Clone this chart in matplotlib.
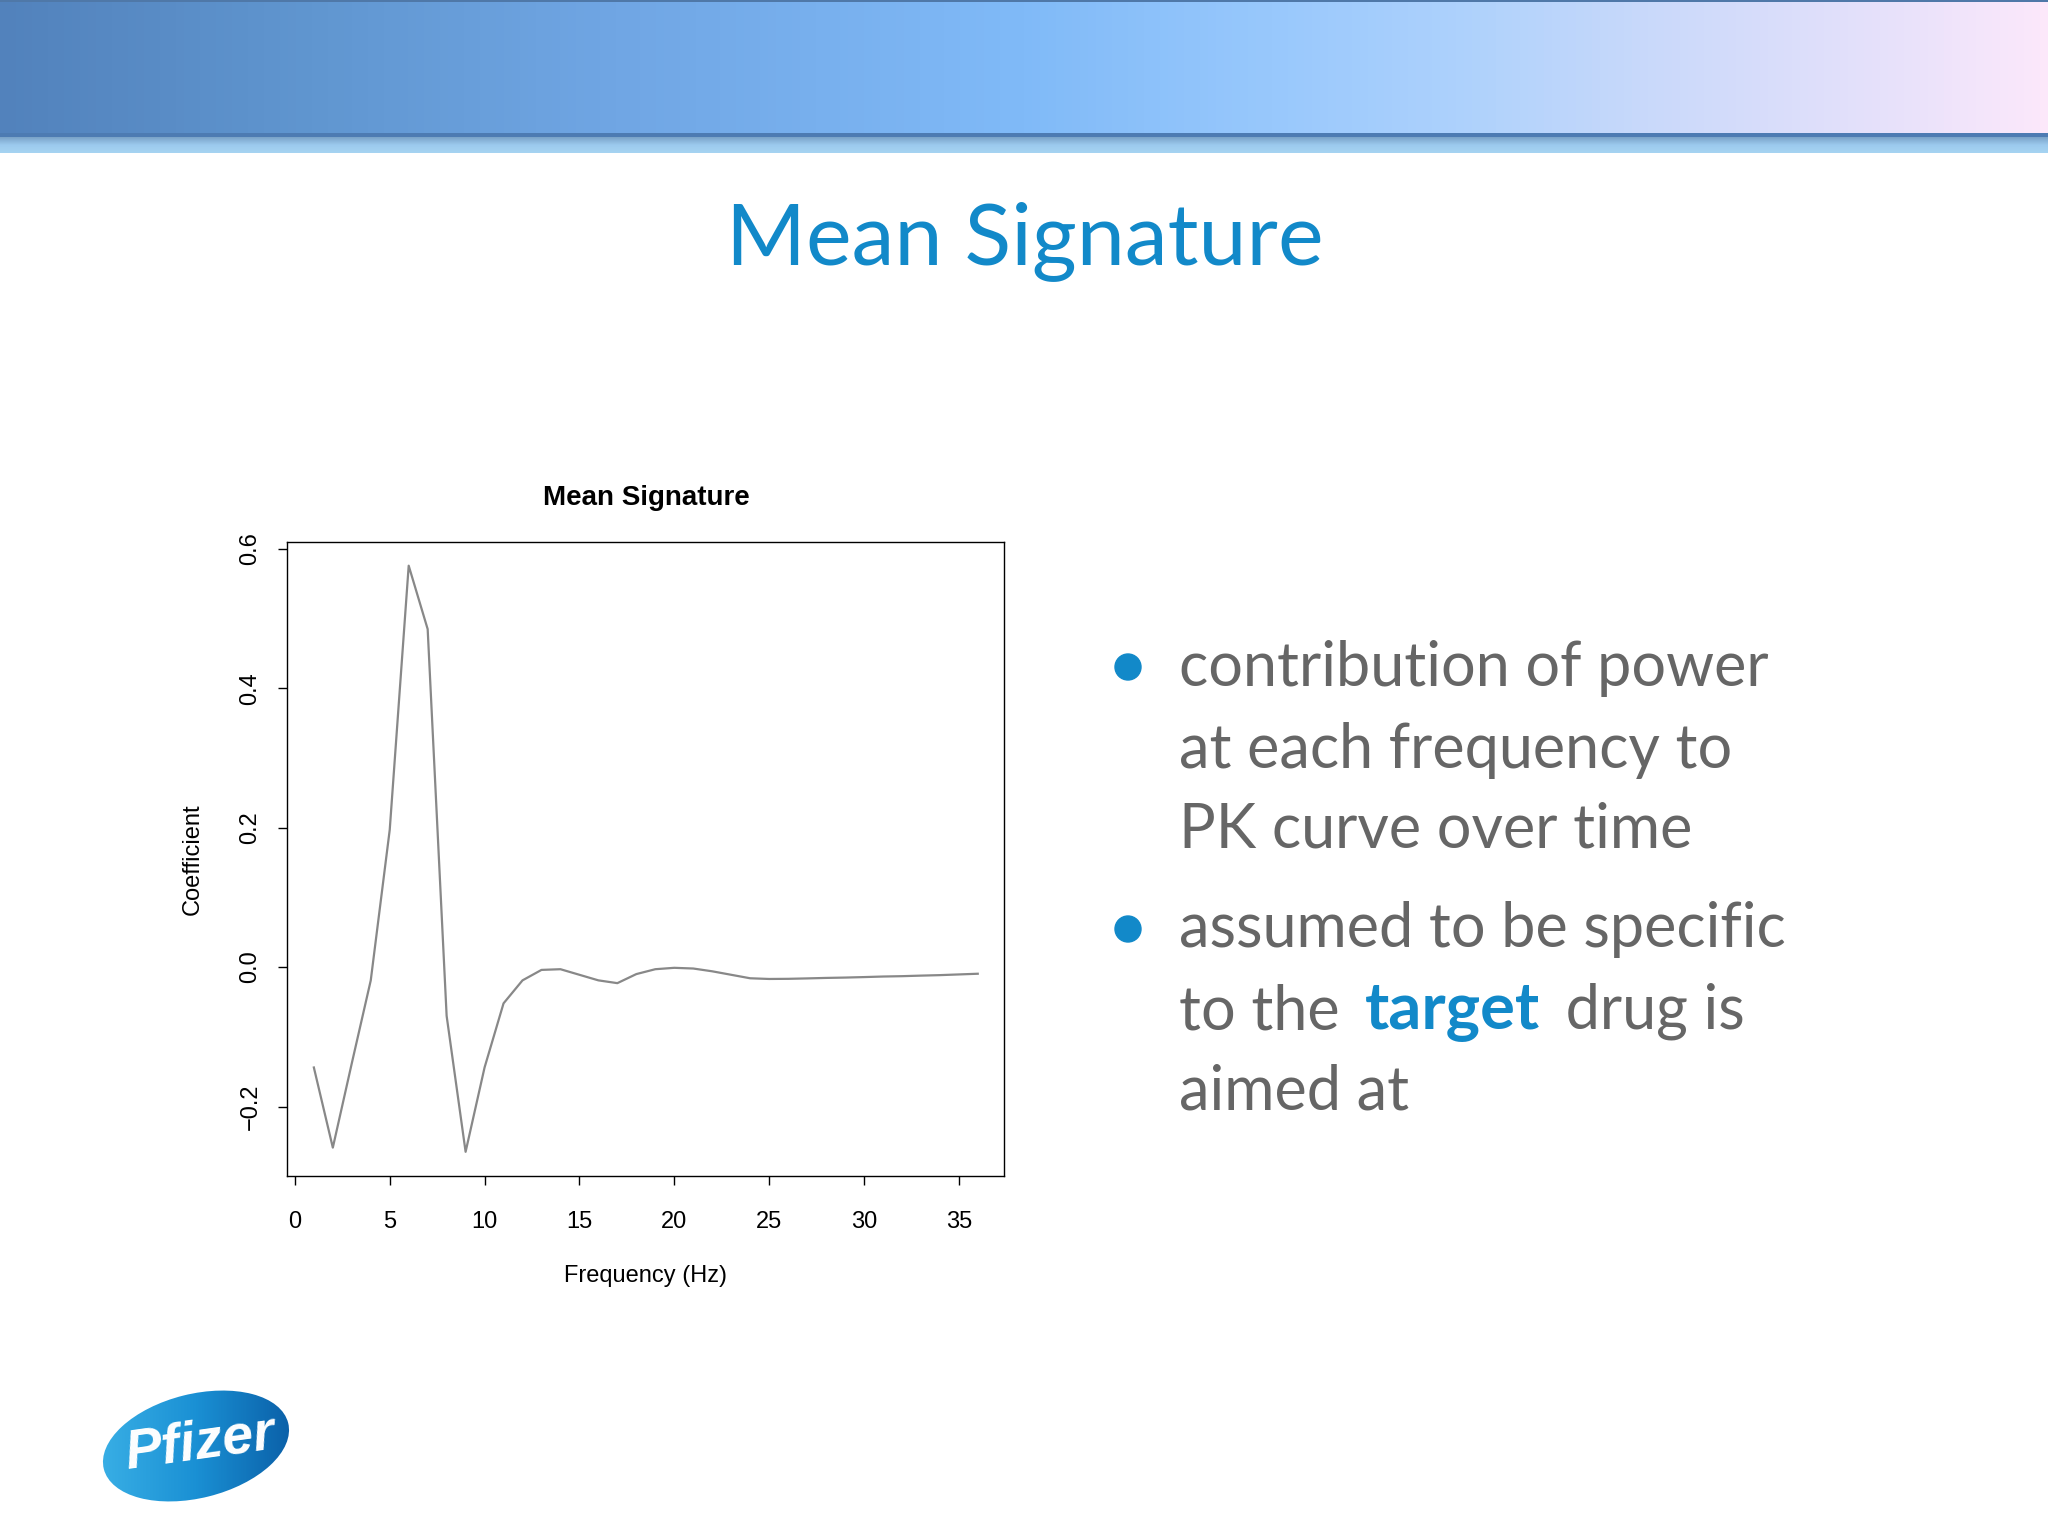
import numpy as np
import matplotlib
matplotlib.use("Agg")
import matplotlib.pyplot as plt
from matplotlib.colors import LinearSegmentedColormap
from matplotlib.patches import Ellipse, Circle

# data
freq = list(range(1, 37))
coef = [-0.144, -0.259, -0.138, -0.019, 0.197, 0.576, 0.485, -0.070, -0.265, -0.144,
        -0.052, -0.019, -0.004, -0.003, -0.011, -0.019, -0.023, -0.010, -0.003, -0.001,
        -0.002, -0.006, -0.011, -0.016, -0.017, -0.0168, -0.0162, -0.0155, -0.015, -0.0143,
        -0.0135, -0.013, -0.0122, -0.0115, -0.0105, -0.0095]
xticks = [0, 5, 10, 15, 20, 25, 30, 35]
yticks = [-0.2, 0.0, 0.2, 0.4, 0.6]

bullet1 = ["contribution of power", "at each frequency to", "PK curve over time"]
bullet2_pre = "to the "
bullet2_bold = "target"
bullet2_post = " drug is"
bullet2 = ["assumed to be specific", None, "aimed at"]

W, H = 2048, 1536
BLUE = "#1289c9"
GRAY = "#666666"
SLIDE_FONT = "Lato"
FS = 44

fig = plt.figure(figsize=(W / 100, H / 100), dpi=100)
fig.patch.set_facecolor("white")

# background axes in pixel coordinates
bg = fig.add_axes([0, 0, 1, 1])
bg.set_xlim(0, W)
bg.set_ylim(H, 0)
bg.axis("off")

# header gradient
stops = [(0.0, (82, 130, 188)), (0.15, (96, 150, 208)), (0.3, (112, 166, 228)),
         (0.5, (128, 186, 248)), (0.62, (152, 200, 252)), (0.72, (175, 210, 252)),
         (0.82, (205, 218, 250)), (0.92, (230, 225, 250)), (1.0, (252, 232, 250))]
cmap = LinearSegmentedColormap.from_list("hdr", [(p, tuple(c / 255 for c in col)) for p, col in stops])
grad = np.linspace(0, 1, 512).reshape(1, -1)
bg.imshow(grad, cmap=cmap, aspect="auto", extent=(0, W, 134, 0), zorder=1)
bg.fill_between([0, W], 0, 2, color="#4f78a8", zorder=2, lw=0)
bg.fill_between([0, W], 133, 137, color="#4d7bb2", zorder=2, lw=0)
band = LinearSegmentedColormap.from_list("band", ["#7aa3c8", "#9ccaee", "#a6d4f2"])
bg.imshow(np.linspace(0, 1, 64).reshape(-1, 1), cmap=band, aspect="auto",
          extent=(0, W, 153, 137), zorder=1)

# slide title
bg.text(1025, 264, "Mean Signature", fontsize=62, color=BLUE, family=SLIDE_FONT,
        ha="center", va="baseline")

# bullets
x_text = 1179
for cy in [667, 929]:
    bg.add_patch(Circle((1128, cy), 13, color=BLUE, zorder=3))
for yb, line in zip([686, 768, 848], bullet1):
    bg.text(x_text, yb, line, fontsize=FS, color=GRAY, family=SLIDE_FONT, va="baseline")
bg.text(x_text, 947, bullet2[0], fontsize=FS, color=GRAY, family=SLIDE_FONT, va="baseline")
bg.text(x_text, 1109, bullet2[2], fontsize=FS, color=GRAY, family=SLIDE_FONT, va="baseline")

renderer = fig.canvas.get_renderer()
t1 = bg.text(x_text, 1029, bullet2_pre, fontsize=FS, color=GRAY, family=SLIDE_FONT, va="baseline")
w1 = t1.get_window_extent(renderer).width + 10
t2 = bg.text(x_text + w1, 1029, bullet2_bold, fontsize=FS + 3, color=BLUE, family=SLIDE_FONT,
             weight="bold", va="baseline")
w2 = t2.get_window_extent(renderer).width + 10
bg.text(x_text + w1 + w2, 1029, bullet2_post, fontsize=FS, color=GRAY, family=SLIDE_FONT,
        va="baseline")

# pfizer logo
ell = Ellipse((196, 1446), 190, 104, angle=-14, facecolor="none", edgecolor="none")
bg.add_patch(ell)
logo_cmap = LinearSegmentedColormap.from_list("logo", ["#3ab0e6", "#1a90d4", "#0a5ea6"])
im = bg.imshow(np.linspace(0, 1, 128).reshape(1, -1), cmap=logo_cmap, aspect="auto",
               extent=(96, 296, 1502, 1388), zorder=2)
im.set_clip_path(ell)
bg.text(200, 1444, "Pfizer", fontsize=40, color="white", style="italic", weight="bold",
        family="Liberation Sans", ha="center", va="center", rotation=8, zorder=3)

# chart
ax = fig.add_axes([287.3 / W, 1 - 1175.5 / H, 717 / W, 633.5 / H])
ax.plot(freq, coef, color="#888888", lw=1.6)
ax.set_xlim(-0.4, 37.4)
ax.set_ylim(-0.299, 0.610)
ax.set_xticks(xticks)
ax.set_yticks(yticks)
ax.set_yticklabels(["\u22120.2", "0.0", "0.2", "0.4", "0.6"], rotation=90, va="center")
ax.tick_params(direction="out", length=6.5, width=1.0, labelsize=17)
ax.tick_params(axis="x", pad=19)
ax.tick_params(axis="y", pad=12)
for s in ax.spines.values():
    s.set_linewidth(1.0)

bg.text(646, 498, "Mean Signature", fontsize=20, weight="bold", family="Liberation Sans",
        ha="center", va="center")
bg.text(646, 1276, "Frequency (Hz)", fontsize=17, family="Liberation Sans",
        ha="center", va="center")
bg.text(193, 859, "Coefficient", fontsize=17, family="Liberation Sans",
        ha="center", va="center", rotation=90)
for lab in ax.get_xticklabels() + ax.get_yticklabels():
    lab.set_family("Liberation Sans")

fig.savefig("out.png", dpi=100)
plt.close()
